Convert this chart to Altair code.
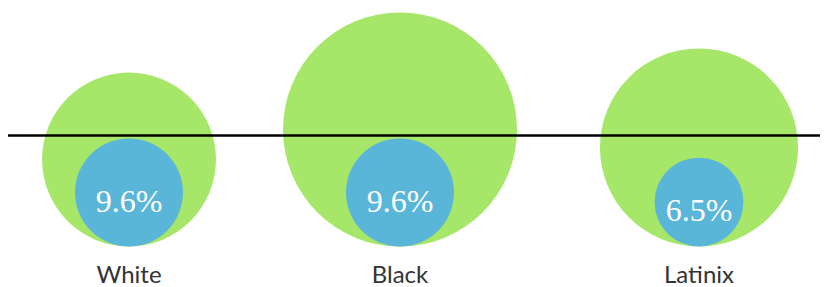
import altair as alt
import pandas as pd

categories = ["White", "Black", "Latinix"]
outer_values = [24.9, 45.1, 32.3]
inner_values = [9.6, 9.6, 6.5]
inner_labels = ["9.6%", "9.6%", "6.5%"]

K = 1214.7  # symbol size (diameter^2, px^2) per unit
df = pd.DataFrame({
    "cat": categories,
    "idx": list(range(len(categories))),
    "outer": outer_values,
    "inner": inner_values,
    "label": inner_labels,
})

W, H = 812, 279
BASE = 238.5

xscale = alt.Scale(domain=[0, 1, 2], range=[121, 392, 691], nice=False, zero=False)
yscale = alt.Scale(domain=[0, BASE], range=[BASE, 0], nice=False, zero=False)
sscale = alt.Scale(type="linear", domain=[0, 1], range=[0, K], zero=True, nice=False)

base = alt.Chart(df).transform_calculate(
    r_out=f"sqrt(datum.outer * {K}) / 2",
    r_in=f"sqrt(datum.inner * {K}) / 2",
)

outer = base.mark_circle(color="#a6e769", opacity=1, strokeWidth=0).encode(
    x=alt.X("idx:Q", scale=xscale, axis=None),
    y=alt.Y("r_out:Q", scale=yscale, axis=None),
    size=alt.Size("outer:Q", scale=sscale, legend=None),
)

rule = alt.Chart(pd.DataFrame({"ly": [BASE - 127.5]})).mark_rule(color="#000000", strokeWidth=2.5).encode(
    x=alt.value(0), x2=alt.value(W + 8), y=alt.Y("ly:Q", scale=yscale, axis=None)
)

inner = base.mark_circle(color="#5ab6d8", opacity=1, strokeWidth=0).encode(
    x=alt.X("idx:Q", scale=xscale, axis=None),
    y=alt.Y("r_in:Q", scale=yscale, axis=None),
    size=alt.Size("inner:Q", scale=sscale, legend=None),
)

pct = base.mark_text(color="white", font="Liberation Serif", fontSize=32, baseline="middle", align="center", dy=9).encode(
    x=alt.X("idx:Q", scale=xscale, axis=None),
    y=alt.Y("r_in:Q", scale=yscale, axis=None),
    text="label:N",
)

cat = base.mark_text(color="#333333", font="Lato", fontSize=24, baseline="alphabetic", align="center").encode(
    x=alt.X("idx:Q", scale=xscale, axis=None),
    y=alt.value(275),
    text="cat:N",
)

chart = alt.layer(outer, rule, inner, pct, cat).properties(
    width=W, height=H, padding=0, autosize=alt.AutoSizeParams(type="none")
).configure_view(stroke=None)

chart.save("out.html", embed_options={"renderer": "svg", "actions": False})
